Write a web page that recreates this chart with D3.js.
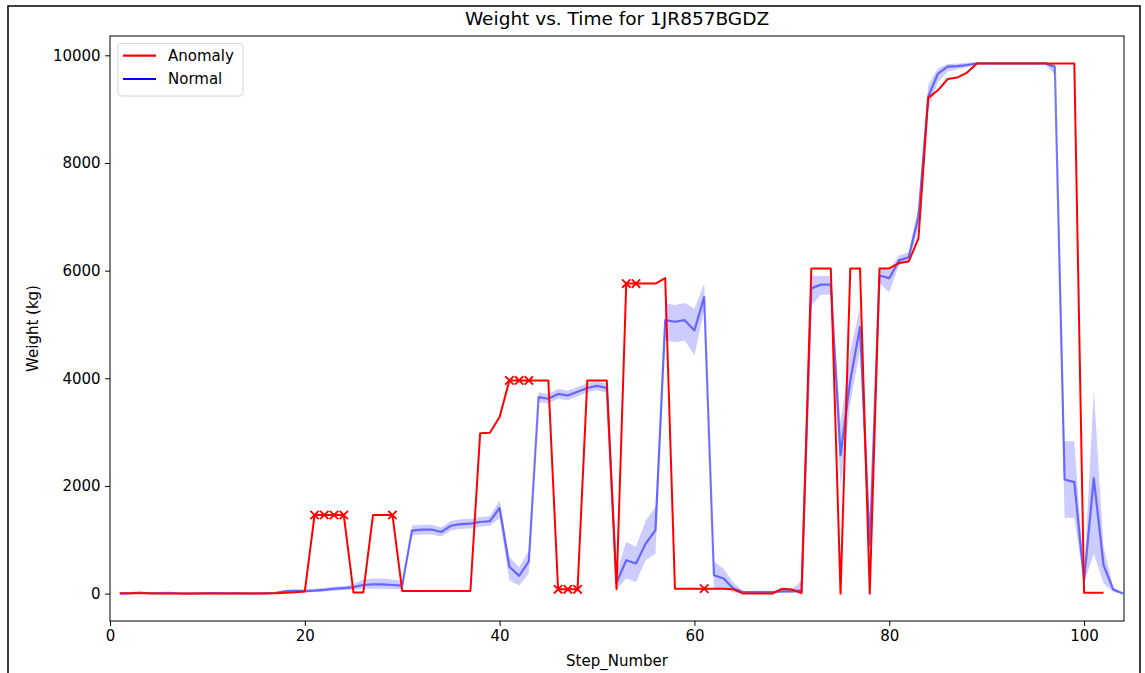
<!DOCTYPE html>
<html><head><meta charset="utf-8">
<script src="https://cdn.jsdelivr.net/npm/d3@7"></script>
<style>
html,body{margin:0;padding:0;background:#fff;}
text{font-family:"DejaVu Sans",sans-serif;fill:#000;}
</style></head>
<body><svg id="c" width="1145" height="673"></svg>
<script>
const title = "Weight vs. Time for 1JR857BGDZ";
const xTicks = [0,20,40,60,80,100];
const yTicks = [0,2000,4000,6000,8000,10000];

// Normal series (steps 1..104): mean, CI lower, CI upper
const normalSteps = d3.range(1,105);
const normalMean = [0,5,20,5,10,15,5,0,5,10,10,5,10,5,5,10,15,40,50,45,
 55,70,90,100,120,160,170,170,160,150,1170,1190,1190,1145,1260,1290,1300,1330,1345,1590,
 500,330,600,3650,3620,3710,3680,3750,3820,3860,3820,200,620,560,930,1180,5080,5050,5080,4890,
 5510,340,280,93,30,30,30,30,40,40,60,5670,5740,5740,2570,3960,4950,900,5910,5860,
 6190,6250,7000,9230,9660,9790,9800,9820,9850,9850,9850,9850,9850,9850,9850,9850,9790,2120,2070,250,
 2140,530,75,0];
const normalLow = [-10,-5,5,-5,0,5,-5,-10,-5,0,0,-5,0,-5,-5,0,0,20,25,20,
 25,40,55,60,70,90,90,90,80,80,1080,1100,1100,1060,1170,1200,1210,1240,1260,1400,
 250,150,370,3560,3530,3620,3590,3660,3740,3780,3730,80,280,215,620,740,4700,4670,4700,4430,
 5260,93,100,20,10,10,10,10,15,15,0,5350,5550,5550,1980,3530,4520,600,5760,5600,
 6100,6170,6800,9000,9500,9700,9740,9780,9830,9830,9830,9830,9830,9830,9830,9830,9650,1410,1410,200,
 740,190,30,-10];
const normalHigh = [10,15,35,15,20,25,15,10,15,20,20,15,20,15,15,20,30,70,80,80,
 90,110,130,140,180,260,280,280,260,240,1260,1280,1280,1230,1350,1380,1390,1420,1440,1730,
 680,490,800,3740,3710,3800,3770,3840,3910,3950,3900,400,960,870,1360,1610,5390,5360,5400,5290,
 5760,590,460,200,50,50,50,50,70,70,250,5910,5900,5900,3160,4520,5320,1200,6070,6010,
 6280,6340,7200,9450,9760,9840,9850,9860,9870,9870,9870,9870,9870,9870,9870,9870,9850,2830,2830,300,
 3780,870,120,10];

// Anomaly series (steps 1..102)
const anomalySteps = d3.range(1,103);
const anomalyValues = [5,5,5,5,0,0,0,0,0,0,0,0,0,0,0,0,5,15,25,40,
 1460,1460,1460,1460,20,20,1460,1460,1460,50,50,50,50,50,50,50,50,2980,2990,3280,
 3960,3960,3960,3960,3960,80,80,80,3960,3960,3960,80,5760,5760,5760,5760,5860,92,92,92,
 92,92,88,80,0,0,0,0,90,75,12,6040,6040,6040,0,6040,6040,0,6040,6040,
 6140,6170,6600,9210,9350,9560,9590,9680,9850,9850,9850,9850,9850,9850,9850,9850,9850,9850,9850,15,
 15,15];
const anomalyMarkerSteps = [21,22,23,24,29,41,42,43,46,47,48,53,54,61];

const legendLabels = ["Anomaly","Normal"];
const legendColors = ["#ff0000","#0000ff"];

const FS = "15px";
const svg = d3.select("#c");
// figure border
svg.append("path").attr("d","M8,673 V6 H1140 V673").attr("fill","none").attr("stroke","#000").attr("stroke-width",1.5);

const L=110,R=1124,T=36,B=621;
const x = d3.scaleLinear().domain([0,104.1]).range([L,R]);
const y = d3.scaleLinear().domain([-509,10359]).range([B,T]);

const plot = svg.append("g");
plot.append("defs").append("clipPath").attr("id","clip").append("rect").attr("x",L).attr("y",T).attr("width",R-L).attr("height",B-T);
const g = plot.append("g").attr("clip-path","url(#clip)");

const nData = normalSteps.map((s,i)=>({s, m:normalMean[i], lo:normalLow[i], hi:normalHigh[i]}));
g.append("path").datum(nData)
 .attr("d", d3.area().x(d=>x(d.s)).y0(d=>y(d.lo)).y1(d=>y(d.hi)))
 .attr("fill","#0000ff").attr("fill-opacity",0.2).attr("stroke","none");
g.append("path").datum(nData)
 .attr("d", d3.line().x(d=>x(d.s)).y(d=>y(d.m)))
 .attr("fill","none").attr("stroke","#0000ff").attr("stroke-opacity",0.5).attr("stroke-width",2.2).attr("stroke-linejoin","round");

const aData = anomalySteps.map((s,i)=>({s, v:anomalyValues[i]}));
g.append("path").datum(aData)
 .attr("d", d3.line().x(d=>x(d.s)).y(d=>y(d.v)))
 .attr("fill","none").attr("stroke","#ff0000").attr("stroke-width",2).attr("stroke-linejoin","round");

const ms = 4.2;
g.selectAll(".mk").data(anomalyMarkerSteps.map(s=>({s, v:anomalyValues[s-1]})))
 .enter().append("path")
 .attr("d", d=>{const cx=x(d.s), cy=y(d.v); return `M${cx-ms},${cy-ms}L${cx+ms},${cy+ms}M${cx-ms},${cy+ms}L${cx+ms},${cy-ms}`;})
 .attr("stroke","#ff0000").attr("stroke-width",1.8).attr("fill","none");

// axes
const xAxis = d3.axisBottom(x).tickValues(xTicks).tickSize(4.9).tickPadding(4.5).tickFormat(d3.format("d"));
const yAxis = d3.axisLeft(y).tickValues(yTicks).tickSize(4.9).tickPadding(4.5).tickFormat(d3.format("d"));
const gx = svg.append("g").attr("transform",`translate(0,${B})`).call(xAxis);
const gy = svg.append("g").attr("transform",`translate(${L},0)`).call(yAxis);
[gx,gy].forEach(a=>{a.select(".domain").remove(); a.selectAll("text").style("font-size",FS).style("font-family","DejaVu Sans"); a.selectAll("line").attr("stroke","#000").attr("stroke-width",1);});
svg.append("rect").attr("x",L).attr("y",T).attr("width",R-L).attr("height",B-T).attr("fill","none").attr("stroke","#000").attr("stroke-width",1);

svg.append("text").attr("x",(L+R)/2).attr("y",25).attr("text-anchor","middle").style("font-size","18.5px").text(title);
svg.append("text").attr("x",(L+R)/2).attr("y",666).attr("text-anchor","middle").style("font-size",FS).text("Step_Number");
svg.append("text").attr("transform",`translate(38,${(T+B)/2}) rotate(-90)`).attr("text-anchor","middle").style("font-size",FS).text("Weight (kg)");

// legend
const lg = svg.append("g");
lg.append("rect").attr("x",118).attr("y",43.5).attr("width",125).attr("height",52.5).attr("rx",3)
 .attr("fill","#fff").attr("fill-opacity",0.8).attr("stroke","#d6d6d6").attr("stroke-width",1);
legendLabels.forEach((lab,i)=>{
  const yy = 55.7 + i*23.3;
  lg.append("line").attr("x1",123).attr("x2",156).attr("y1",yy).attr("y2",yy).attr("stroke",legendColors[i]).attr("stroke-width",2.2);
  lg.append("text").attr("x",168).attr("y",yy+5.3).style("font-size",FS).text(lab);
});
</script></body></html>
